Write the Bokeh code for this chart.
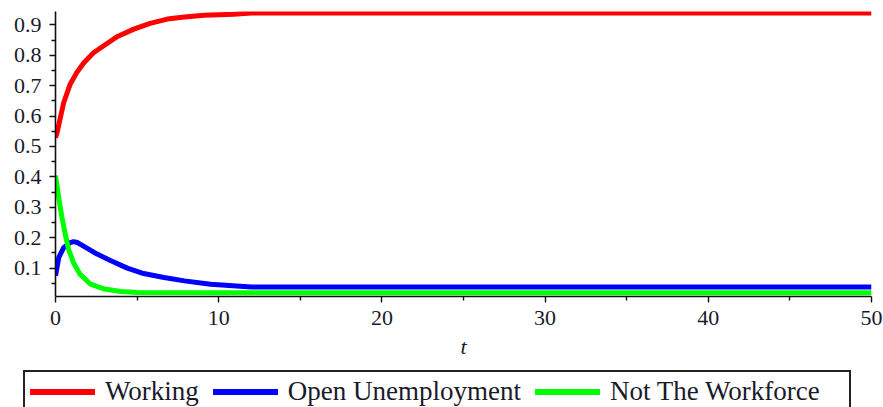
from bokeh.plotting import figure
from bokeh.layouts import column
from bokeh.models import Range1d, FixedTicker, PrintfTickFormatter, Div
from bokeh.embed import file_html
from bokeh.resources import INLINE

# Data
t_working = [0, 0.1, 0.5, 0.9, 1.3, 1.75, 2.35, 3.0, 3.8, 4.8, 5.8, 6.85, 7.9, 9.1, 10.9, 12, 20, 30, 40, 50]
working = [0.529, 0.546, 0.644, 0.705, 0.743, 0.776, 0.809, 0.833, 0.862, 0.886, 0.905, 0.919, 0.926, 0.932, 0.935, 0.939, 0.939, 0.939, 0.939, 0.939]

t_unemp = [0, 0.2, 0.5, 0.9, 1.1, 1.35, 1.95, 2.55, 3.4, 4.4, 5.4, 6.65, 7.9, 9.5, 12, 20, 30, 40, 50]
unemp = [0.075, 0.135, 0.167, 0.184, 0.187, 0.184, 0.165, 0.146, 0.124, 0.100, 0.082, 0.069, 0.058, 0.047, 0.038, 0.0375, 0.0375, 0.0375, 0.0375]

t_notwf = [0, 0.2, 0.4, 0.6, 0.8, 1.1, 1.5, 2.15, 3.0, 4.0, 5, 10, 20, 30, 40, 50]
notwf = [0.404, 0.331, 0.266, 0.211, 0.162, 0.118, 0.080, 0.047, 0.031, 0.023, 0.020, 0.019, 0.019, 0.019, 0.019, 0.019]

series_names = ["Working", "Open Unemployment", "Not The Workforce"]
series_colors = ["#FF0000", "#0000FF", "#00FF00"]

x_ticks = [0, 10, 20, 30, 40, 50]
x_minor = [5, 15, 25, 35, 45]
y_ticks = [0.1, 0.2, 0.3, 0.4, 0.5, 0.6, 0.7, 0.8, 0.9]
y_minor = [0.05, 0.15, 0.25, 0.35, 0.45, 0.55, 0.65, 0.75, 0.85]

FONT = "Liberation Serif"
TXT = "#1a1a2a"

p = figure(width=883, height=370, output_backend="svg", toolbar_location=None,
           x_range=Range1d(0, 50), y_range=Range1d(0.0066, 0.944),
           min_border_left=55, min_border_right=12, min_border_top=11, min_border_bottom=74)
p.outline_line_color = None
p.grid.visible = False
p.background_fill_color = "white"
p.border_fill_color = "white"

p.line(t_working, working, line_color=series_colors[0], line_width=5)
p.line(t_unemp, unemp, line_color=series_colors[1], line_width=5)
p.line(t_notwf, notwf, line_color=series_colors[2], line_width=5)

for ax in (p.xaxis[0], p.yaxis[0]):
    ax.axis_line_color = "#111111"
    ax.axis_line_width = 1.6
    ax.major_tick_line_color = "#111111"
    ax.minor_tick_line_color = "#111111"
    ax.major_tick_line_width = 1.4
    ax.minor_tick_line_width = 1.4
    ax.major_tick_in = 0
    ax.major_tick_out = 6
    ax.minor_tick_in = 0
    ax.minor_tick_out = 4
    ax.major_label_text_font = FONT
    ax.major_label_text_font_size = "22px"
    ax.major_label_text_color = TXT

p.xaxis[0].major_label_standoff = 8
p.yaxis[0].major_label_standoff = 8
p.xaxis[0].ticker = FixedTicker(ticks=x_ticks, minor_ticks=x_minor)
p.yaxis[0].ticker = FixedTicker(ticks=y_ticks, minor_ticks=y_minor)
p.xaxis[0].formatter = PrintfTickFormatter(format="%d")
p.yaxis[0].formatter = PrintfTickFormatter(format="%.1f")
p.xaxis[0].axis_label = "t"
p.xaxis[0].axis_label_text_font = FONT
p.xaxis[0].axis_label_text_font_style = "italic"
p.xaxis[0].axis_label_text_font_size = "22px"
p.xaxis[0].axis_label_text_color = TXT
p.xaxis[0].axis_label_standoff = 6

# Legend box (HTML) below the plot
FF = "font-family:'Liberation Serif','Times New Roman',serif !important;"
items_html = ""
for i, (name, color) in enumerate(zip(series_names, series_colors)):
    gap = "0" if i == len(series_names) - 1 else "14px"
    items_html += (
        f'<span style="display:inline-block;width:65px;height:6px;background:{color};'
        f'vertical-align:middle;margin-right:10px;"></span>'
        f'<span class="lgt" style="display:inline-block;vertical-align:middle;margin-right:{gap};{FF}">{name}</span>'
    )
legend_html = (
    "<style>.lgd, .lgd *, .lgt { font-family: 'Liberation Serif', 'Times New Roman', serif !important; }</style>"
    '<div class="lgd" style="box-sizing:border-box;width:828px;height:37px;'
    'border:2px solid #222222;border-bottom:none;padding:0 0 0 5px;'
    + FF +
    'font-size:27px;color:#1a1a2a;'
    'line-height:35px;white-space:nowrap;overflow:hidden;background:white;">'
    + items_html + '</div>'
)
legend_div = Div(text=legend_html, width=860, height=37, margin=(0, 0, 0, 23),
                 styles={"font-family": "'Liberation Serif', 'Times New Roman', serif",
                         "font-size": "27px", "color": TXT})

layout = column(p, legend_div, spacing=0)
open("out.html", "w").write(file_html(layout, INLINE))
